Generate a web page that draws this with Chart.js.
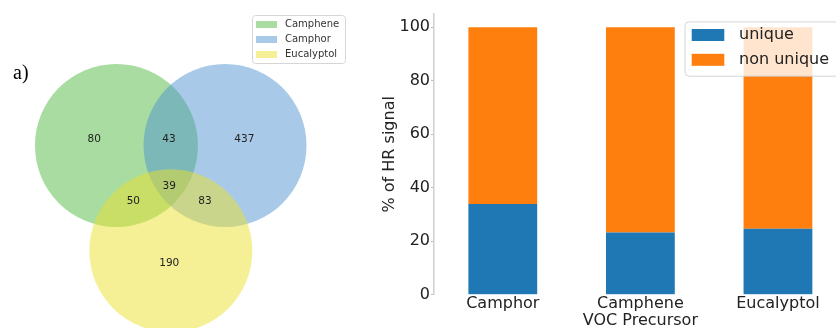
<!DOCTYPE html>
<html>
<head>
<meta charset="utf-8">
<script src="https://cdn.jsdelivr.net/npm/chart.js@4.4.1/dist/chart.umd.min.js"></script>
<style>
  html, body { margin: 0; padding: 0; background: #fff; overflow: hidden; width: 836px; height: 328px; }
  #vennBox { position: absolute; left: 0; top: 0; width: 360px; height: 328px; }
  #barBox { position: absolute; left: 360px; top: 0; width: 500px; height: 340px; }
</style>
</head>
<body>
<div id="vennBox"><canvas id="venn" width="360" height="328"></canvas></div>
<div id="barBox"><canvas id="bars" width="500" height="340"></canvas></div>
<script>
// ---- Panel a): three-set Venn diagram ----
const setNames = ['Camphene', 'Camphor', 'Eucalyptol'];
const regionNames = ['Camphene only', 'Camphor only', 'Eucalyptol only',
                     'Camphene+Camphor', 'Camphene+Eucalyptol', 'Camphor+Eucalyptol', 'all three'];
const regionCounts = [80, 437, 190, 43, 50, 83, 39];

// ---- Panel b): share of HR signal per precursor ----
const categories = ['Camphor', 'Camphene', 'Eucalyptol'];
const uniquePct = [33.9, 23.3, 24.7];
const nonUniquePct = [66.1, 76.7, 75.3];
const yTickValues = [0, 20, 40, 60, 80, 100];

Chart.defaults.font.family = "'DejaVu Sans', sans-serif";
Chart.defaults.animation = false;

// Venn geometry, in circle-radius units (unweighted layout: equal circles)
const vennUnitPx = 81.5;
const vennOrigin = { x: 170.5, y: 145.5 };
const circleCenters = [ { x: -0.663, y: 0 }, { x: 0.669, y: 0 }, { x: 0.004, y: 1.292 } ];
const regionLabelPos = [
  { x: -0.935, y: -0.076 }, { x: 0.906, y: -0.076 }, { x: -0.015, y: 1.445 },
  { x: -0.018, y: -0.076 }, { x: -0.456, y: 0.69 }, { x: 0.423, y: 0.69 }, { x: -0.015, y: 0.497 }
];
const setFill = ['rgba(81,185,65,0.5)', 'rgba(81,149,209,0.5)', 'rgba(235,225,45,0.5)'];

const vennDecor = {
  id: 'vennDecor',
  afterDatasetsDraw(chart) {
    const { ctx, scales: { x, y } } = chart;
    ctx.save();
    // region counts
    ctx.fillStyle = '#222';
    ctx.font = "10.5px 'DejaVu Sans'";
    ctx.textAlign = 'center';
    ctx.textBaseline = 'middle';
    regionCounts.forEach((n, i) => {
      const p = regionLabelPos[i];
      ctx.fillText(String(n), x.getPixelForValue(p.x), y.getPixelForValue(p.y));
    });
    // panel letter
    ctx.font = "20px 'Liberation Serif'";
    ctx.textAlign = 'left';
    ctx.textBaseline = 'alphabetic';
    ctx.fillStyle = '#000';
    ctx.fillText('a)', 13, 79);
    // legend
    const bx = 252, by = 15, bw = 93, bh = 48;
    ctx.beginPath();
    ctx.roundRect(bx + 0.5, by + 0.5, bw, bh, 3);
    ctx.fillStyle = 'rgba(255,255,255,0.8)';
    ctx.fill();
    ctx.strokeStyle = '#d6d6d6';
    ctx.lineWidth = 1;
    ctx.stroke();
    ctx.font = "10px 'DejaVu Sans'";
    ctx.textBaseline = 'middle';
    setNames.forEach((name, i) => {
      const cy = by + 9.5 + i * 15;
      ctx.fillStyle = setFill[i];
      ctx.fillRect(bx + 4, cy - 3.5, 21, 7);
      ctx.fillStyle = '#333';
      ctx.fillText(name, bx + 33, cy);
    });
    ctx.restore();
  }
};

new Chart(document.getElementById('venn'), {
  type: 'bubble',
  data: {
    datasets: setNames.map((name, i) => ({
      label: name,
      data: [{ x: circleCenters[i].x, y: circleCenters[i].y, r: vennUnitPx }],
      backgroundColor: setFill[i],
      borderWidth: 0,
      order: 3 - i
    }))
  },
  options: {
    responsive: false,
    events: [],
    clip: false,
    layout: { padding: 0, autoPadding: false },
    plugins: { legend: { display: false }, tooltip: { enabled: false } },
    scales: {
      x: { type: 'linear', display: false,
           min: -vennOrigin.x / vennUnitPx, max: (360 - vennOrigin.x) / vennUnitPx },
      y: { type: 'linear', display: false, reverse: true,
           min: -vennOrigin.y / vennUnitPx, max: (328 - vennOrigin.y) / vennUnitPx }
    }
  },
  plugins: [vennDecor]
});

// ---- stacked bars ----
const textColor = '#222';
const barLegend = {
  id: 'barLegend',
  afterDraw(chart) {
    const { ctx, chartArea: ca } = chart;
    const bw = 153.75, bh = 54.3;
    const bx = ca.right - 8 - bw, by = ca.top + 8;
    ctx.save();
    ctx.beginPath();
    ctx.roundRect(bx, by, bw, bh, 4);
    ctx.fillStyle = 'rgba(255,255,255,0.8)';
    ctx.fill();
    ctx.strokeStyle = 'rgba(204,204,204,0.8)';
    ctx.lineWidth = 1;
    ctx.stroke();
    ctx.font = "16px 'DejaVu Sans'";
    ctx.textBaseline = 'middle';
    ctx.textAlign = 'left';
    chart.data.datasets.forEach((ds, i) => {
      const cy = by + 13.1 + i * 24.8;
      ctx.fillStyle = ds.backgroundColor;
      ctx.fillRect(bx + 6.7, cy - 6, 32.6, 12);
      ctx.fillStyle = textColor;
      ctx.fillText(ds.label, bx + 54, cy);
    });
    ctx.restore();
  }
};

new Chart(document.getElementById('bars'), {
  type: 'bar',
  data: {
    labels: categories,
    datasets: [
      { label: 'unique', data: uniquePct, backgroundColor: '#1f77b4',
        barPercentage: 0.5, categoryPercentage: 1 },
      { label: 'non unique', data: nonUniquePct, backgroundColor: '#ff7f0e',
        barPercentage: 0.5, categoryPercentage: 1 }
    ]
  },
  options: {
    responsive: false,
    events: [],
    layout: { padding: { left: 0, right: 13.25, top: 13.9, bottom: 0 } },
    plugins: { legend: { display: false }, tooltip: { enabled: false } },
    scales: {
      x: {
        stacked: true,
        grid: { display: false, drawTicks: false, tickLength: 0 },
        border: { display: false },
        ticks: { color: textColor, font: { size: 16 }, padding: 0, maxRotation: 0, autoSkip: false },
        title: { display: true, text: 'VOC Precursor', color: textColor, font: { size: 16 },
                 padding: { top: 0, bottom: 9.4 } },
        afterFit(s) { s.height = 45.3; }
      },
      y: {
        stacked: true,
        min: 0, max: 105,
        afterBuildTicks(s) { s.ticks = yTickValues.map(v => ({ value: v })); },
        afterFit(s) { s.width = 74; },
        grid: { display: true, drawOnChartArea: false, tickLength: 3, color: '#bdbdbd' },
        border: { display: true, color: '#cfcfcf', width: 1.5 },
        ticks: { color: textColor, font: { size: 16 }, padding: 1 },
        title: { display: true, text: '% of HR signal', color: textColor, font: { size: 16 },
                 padding: { top: 20.4, bottom: 0 } }
      }
    }
  },
  plugins: [barLegend]
});
</script>
</body>
</html>
